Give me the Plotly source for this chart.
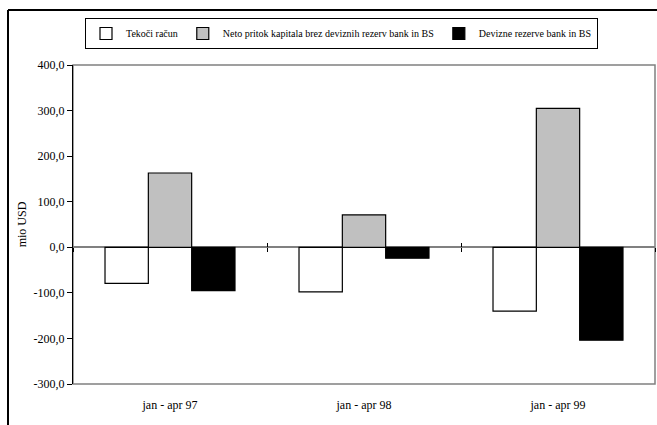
import plotly.graph_objects as go

categories = ["jan - apr 97", "jan - apr 98", "jan - apr 99"]
series_names = [
    "Tekoči račun",
    "Neto pritok kapitala brez deviznih rezerv bank in BS",
    "Devizne rezerve bank in BS",
]
tekoci_racun = [-79.0, -98.0, -140.0]
neto_pritok = [163.0, 71.0, 305.0]
devizne_rezerve = [-95.0, -24.0, -204.0]
y_tickvals = [-300, -200, -100, 0, 100, 200, 300, 400]
y_ticktext = ["-300,0", "-200,0", "-100,0", "0,0", "100,0", "200,0", "300,0", "400,0"]
y_title = "mio USD"

colors = ["#FFFFFF", "#C0C0C0", "#000000"]
series = [tekoci_racun, neto_pritok, devizne_rezerve]

W, H = 657, 425
ml, mr, mt, mb = 73, 2, 65, 41
pw, ph = W - ml - mr, H - mt - mb
ymin, ymax = -300, 400
xpos = list(range(len(categories)))

fig = go.Figure()
for name, vals, col in zip(series_names, series, colors):
    fig.add_trace(go.Bar(
        x=xpos, y=vals, name=name,
        marker=dict(color=col, line=dict(color="#000000", width=1.2)),
    ))

# dummy traces to register the crossing-tick axes
fig.add_trace(go.Scatter(x=[None], y=[None], xaxis="x2", showlegend=False, hoverinfo="skip"))
fig.add_trace(go.Scatter(x=[None], y=[None], xaxis="x3", showlegend=False, hoverinfo="skip"))

font = "Liberation Serif"
zero_pos = (0 - ymin) / (ymax - ymin)
bounds = [i - 0.5 for i in range(len(categories) + 1)]

def px_x(p):
    return (p - ml) / pw

def px_y(p):
    return (H - mb - p) / ph

fig.update_layout(
    width=W, height=H,
    margin=dict(l=ml, r=mr, t=mt, b=mb, autoexpand=False),
    paper_bgcolor="white", plot_bgcolor="white",
    font=dict(family=font, size=11, color="#000000"),
    barmode="group", bargap=0.33, bargroupgap=0,
    showlegend=True,
    legend=dict(
        orientation="h", x=px_x(85), y=px_y(18),
        xanchor="left", yanchor="top",
        bordercolor="#000000", borderwidth=1, bgcolor="white",
        font=dict(family=font, size=10, color="#000000"),
        itemwidth=30, tracegroupgap=0,
    ),
    xaxis=dict(
        range=[-0.5, len(categories) - 0.5],
        tickvals=xpos, ticktext=categories,
        ticks="outside", ticklen=10, tickcolor="rgba(0,0,0,0)",
        showgrid=False, zeroline=False, showline=False,
        tickfont=dict(family=font, size=12),
    ),
    xaxis2=dict(
        overlaying="x", anchor="free", position=zero_pos,
        range=[-0.5, len(categories) - 0.5],
        tickvals=bounds, ticks="outside", ticklen=4, tickcolor="#000000", tickwidth=1,
        showticklabels=False, showgrid=False, zeroline=False, showline=False,
    ),
    xaxis3=dict(
        overlaying="x", anchor="free", position=zero_pos,
        range=[-0.5, len(categories) - 0.5],
        tickvals=bounds, ticks="inside", ticklen=4, tickcolor="#000000", tickwidth=1,
        showticklabels=False, showgrid=False, zeroline=False, showline=False,
    ),
    yaxis=dict(
        range=[ymin, ymax],
        tickvals=y_tickvals, ticktext=y_ticktext,
        ticks="outside", ticklen=5, tickcolor="#000000", tickwidth=1,
        showline=True, linecolor="#000000", linewidth=1.2,
        showgrid=False,
        zeroline=True, zerolinecolor="#808080", zerolinewidth=1.5,
        tickfont=dict(family=font, size=12),
        title=dict(text=y_title, font=dict(family=font, size=12), standoff=4),
    ),
    shapes=[
        dict(type="rect", xref="paper", yref="paper", x0=0, x1=1, y0=0, y1=1,
             line=dict(color="#808080", width=1.5), layer="below"),
        dict(type="line", xref="paper", yref="paper",
             x0=px_x(8), x1=px_x(W), y0=px_y(10), y1=px_y(10),
             line=dict(color="#000000", width=2)),
        dict(type="line", xref="paper", yref="paper",
             x0=px_x(8), x1=px_x(8), y0=px_y(10), y1=px_y(H),
             line=dict(color="#000000", width=2)),
    ],
)

fig.write_html(
    "out.html",
    config={"displayModeBar": False},
    post_script="document.body.style.margin='0';document.body.style.padding='0';",
)
